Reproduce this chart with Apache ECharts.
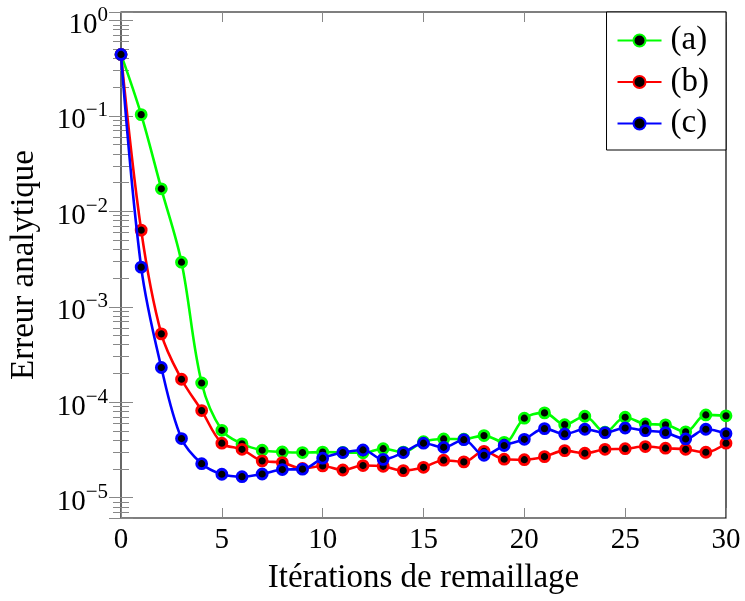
<!DOCTYPE html>
<html>
<head>
<meta charset="utf-8">
<script src="https://cdn.jsdelivr.net/npm/echarts@6/dist/echarts.min.js"></script>
<style>html,body{margin:0;padding:0;background:#fff}#c{width:745px;height:601px}</style>
</head>
<body>
<div id="c"></div>
<script>
var iterations = [0,1,2,3,4,5,6,7,8,9,10,11,12,13,14,15,16,17,18,19,20,21,22,23,24,25,26,27,28,29,30];
var seriesNames = ['(a)', '(b)', '(c)'];
var errA = [0.44,0.103,0.0172,0.00293,1.59e-4,5.08e-5,3.66e-5,3.14e-5,3.01e-5,2.97e-5,3.0e-5,2.98e-5,2.95e-5,3.26e-5,3.0e-5,3.86e-5,4.12e-5,4.1e-5,4.47e-5,3.8e-5,6.8e-5,7.73e-5,5.82e-5,7.13e-5,4.85e-5,6.96e-5,5.92e-5,5.8e-5,4.89e-5,7.36e-5,7.2e-5];
var errB = [0.44,0.00635,5.2e-4,1.74e-4,8.17e-5,3.72e-5,3.21e-5,2.43e-5,2.33e-5,2.02e-5,2.15e-5,1.95e-5,2.17e-5,2.13e-5,1.92e-5,2.08e-5,2.47e-5,2.37e-5,3.06e-5,2.53e-5,2.5e-5,2.69e-5,3.11e-5,2.92e-5,3.21e-5,3.26e-5,3.43e-5,3.3e-5,3.21e-5,2.99e-5,3.72e-5];
var errC = [0.44,0.0026,2.31e-4,4.16e-5,2.27e-5,1.76e-5,1.66e-5,1.77e-5,1.97e-5,1.99e-5,2.59e-5,2.97e-5,3.16e-5,2.52e-5,2.97e-5,3.72e-5,3.37e-5,4.05e-5,2.78e-5,3.52e-5,4.09e-5,5.29e-5,4.65e-5,5.21e-5,4.8e-5,5.37e-5,5.04e-5,4.8e-5,4.12e-5,5.21e-5,4.69e-5];
var xTicks = [0,5,10,15,20,25,30];
var colors = ['#00ff00', '#ff0000', '#0000ff'];
var xTitle = 'Itérations de remaillage';
var yTitle = 'Erreur analytique';

var FONT = 'Liberation Serif';
var yMin = Math.pow(10, -5.213), yMax = Math.pow(10, 0.088);

function pairs(vals){ return iterations.map(function(x,i){ return [x, vals[i]]; }); }
function logLabel(v){
  var e = Math.log10(v), r = Math.round(e);
  if (Math.abs(e - r) > 1e-6) return '';
  return '{b|10}{s|' + (r < 0 ? '\u2212' + (-r) : String(r)) + '}';
}
var tickGray = '#888';
var chart = echarts.init(document.getElementById('c'), null, {renderer:'canvas'});
var allSeries = [errA, errB, errC].map(function(vals, i){
  return {
    name: seriesNames[i], type: 'line', data: pairs(vals),
    smooth: 0.35, symbol: 'circle', symbolSize: 10,
    lineStyle: {color: colors[i], width: 2.6},
    itemStyle: {color: '#000', borderColor: colors[i], borderWidth: 2.8},
    emphasis: {disabled: true}, animation: false, z: 2 + i
  };
});
chart.setOption({
  animation: false,
  grid: {left: 120, right: 19, top: 12, bottom: 83, show: true, borderColor: '#000', borderWidth: 1.2, backgroundColor: 'transparent'},
  legend: {
    data: seriesNames, orient: 'vertical', right: 19, top: 12,
    padding: [12, 17, 10, 10], itemGap: 8.5, itemWidth: 44, itemHeight: 15,
    borderColor: '#000', borderWidth: 1, backgroundColor: '#fff',
    textStyle: {fontFamily: FONT, fontSize: 33, color: '#000', padding: [0,0,0,4]}
  },
  xAxis: [{
    type: 'value', min: 0, max: 30, interval: 5,
    name: xTitle, nameLocation: 'middle', nameGap: 44,
    nameTextStyle: {fontFamily: FONT, fontSize: 33, color: '#000'},
    axisLine: {show: false},
    axisTick: {inside: true, length: 10, lineStyle: {color: tickGray}},
    axisLabel: {fontFamily: FONT, fontSize: 29, color: '#000', margin: 8,
      formatter: function(v){ return xTicks.indexOf(v) >= 0 ? String(v) : ''; }},
    splitLine: {show: false}
  }, {
    type: 'value', min: 0, max: 30, interval: 5, position: 'top',
    axisLine: {show: false}, axisLabel: {show: false},
    axisTick: {inside: true, length: 10, lineStyle: {color: tickGray}},
    splitLine: {show: false}
  }],
  yAxis: [{
    type: 'log', logBase: 10, min: yMin, max: yMax,
    name: yTitle, nameLocation: 'middle', nameGap: 80,
    nameTextStyle: {fontFamily: FONT, fontSize: 33, color: '#000'},
    axisLine: {show: false},
    axisTick: {inside: true, length: 12, lineStyle: {color: tickGray}},
    minorTick: {show: true, splitNumber: 9, length: 8, lineStyle: {color: tickGray}},
    axisLabel: {margin: 13, formatter: logLabel, padding: [10,0,0,0],
      rich: {
        b: {fontFamily: FONT, fontSize: 29, color: '#000', lineHeight: 41},
        s: {fontFamily: FONT, fontSize: 21, color: '#000', lineHeight: 20, verticalAlign: 'top'}
      }},
    splitLine: {show: false}, minorSplitLine: {show: false}
  }, {
    type: 'log', logBase: 10, min: yMin, max: yMax, position: 'right',
    axisLine: {show: false}, axisLabel: {show: false},
    axisTick: {inside: true, length: 12, lineStyle: {color: tickGray}},
    minorTick: {show: true, splitNumber: 9, length: 8, lineStyle: {color: tickGray}},
    splitLine: {show: false}, minorSplitLine: {show: false}
  }],
  series: allSeries
});
</script>
</body>
</html>
